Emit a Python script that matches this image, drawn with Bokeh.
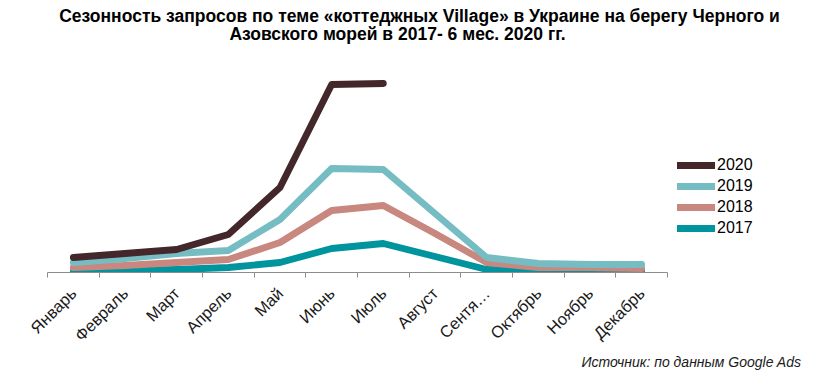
import numpy as np
from bokeh.plotting import figure
from bokeh.models import (Range1d, FixedTicker, Title, Legend, LegendItem, Label)
from bokeh.embed import file_html
from bokeh.resources import INLINE

months = ["Январь", "Февраль", "Март", "Апрель", "Май", "Июнь", "Июль",
          "Август", "Сентя…", "Октябрь", "Ноябрь", "Декабрь"]

y2020 = [15, 19, 23, 38, 85, 188, 189]
y2019 = [10, 14, 19, 22, 53, 104, 103, 59, 15, 9, 8, 8]
y2018 = [5, 7, 10, 13, 30, 62, 67, 39, 10, 5, 5, 4]
y2017 = [1, 2, 3, 5, 10, 24, 29, 16, 3, 2, 2, 2]

series = [("2017", y2017, "#00959E"),
          ("2018", y2018, "#C8877F"),
          ("2019", y2019, "#76BDC3"),
          ("2020", y2020, "#43272A")]

W, H = 805, 372
FL, FB = 47, 272            # frame left / bottom (page px)
AX_R = 667                  # right end of the category axis
CAT = (AX_R - FL) / 12.0    # px per category
FR = W                      # frame right
x_end = -0.5 + (FR - FL) / CAT

p = figure(width=W, height=H, output_backend="svg", toolbar_location=None,
           x_range=Range1d(-0.5, x_end), y_range=Range1d(0, FB),
           min_border_left=FL, min_border_right=0, min_border_top=0,
           min_border_bottom=H - FB)
p.outline_line_color = None
p.grid.visible = False
p.yaxis.visible = False


def px_x(px):
    return (px - FL) / CAT - 0.5


def px_y(py):
    return FB - py


renderers = {}
for name, vals, col in series:
    xs = list(range(len(vals)))
    r = p.line(xs, vals, line_color=col, line_width=6.8,
               line_cap="round", line_join="round")
    renderers[name] = r

ax = p.xaxis[0]
ax.bounds = (-0.5, 11.5)
ax.ticker = FixedTicker(ticks=list(range(12)),
                        minor_ticks=[i - 0.5 for i in range(13)])
ax.major_label_overrides = {i: m for i, m in enumerate(months)}
ax.major_tick_line_color = None
ax.minor_tick_in = 0
ax.minor_tick_out = 5
ax.minor_tick_line_color = "#8C8C8C"
ax.axis_line_color = "#8C8C8C"
ax.axis_line_width = 1.2
ax.major_label_orientation = np.pi / 4
ax.major_label_text_font = "Liberation Sans"
ax.major_label_text_font_size = "16.5px"
ax.major_label_text_color = "#1A1A1A"
ax.major_label_standoff = 12

legend = Legend(items=[LegendItem(label=n, renderers=[renderers[n]])
                       for n in ["2020", "2019", "2018", "2017"]],
                location=(677 - FL, FB - 238), orientation="vertical",
                glyph_width=38, glyph_height=20, label_height=20,
                spacing=1, padding=0, margin=0, label_standoff=2,
                border_line_color=None, background_fill_alpha=0,
                label_text_font="Liberation Sans",
                label_text_font_size="16px", label_text_color="#000000")
p.add_layout(legend, "center")

t1 = Label(x=px_x(419), y=px_y(15),
           text="Сезонность запросов по теме «коттеджных Village» в Украине на берегу Черного и",
           text_align="center", text_baseline="alphabetic",
           text_font="Liberation Sans", text_font_style="bold",
           text_font_size="17.5px", text_color="#000000")
t2 = Label(x=px_x(397), y=px_y(33),
           text="Азовского морей в 2017- 6 мес. 2020 гг.",
           text_align="center", text_baseline="alphabetic",
           text_font="Liberation Sans", text_font_style="bold",
           text_font_size="17.5px", text_color="#000000")
p.add_layout(t1)
p.add_layout(t2)

src = Title(text="Источник: по данным Google Ads", align="right",
            offset=FR - 801, standoff=-4,
            text_font="Liberation Sans", text_font_style="italic",
            text_font_size="14px", text_color="#1A1A1A")
p.add_layout(src, "below")

open("out.html", "w").write(file_html(p, INLINE))
